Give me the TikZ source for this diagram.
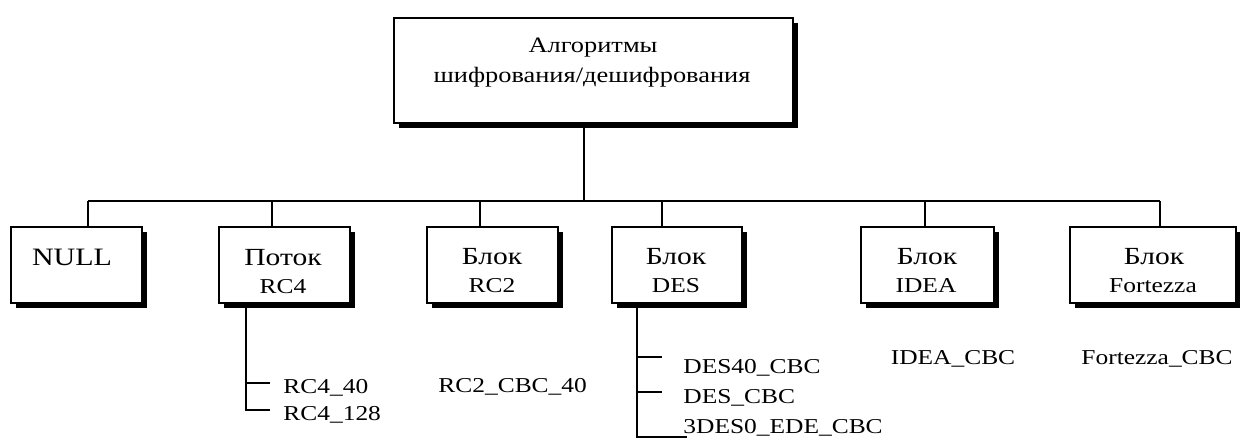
\documentclass[tikz,border=0pt]{standalone}
\usepackage{fontspec}
\setmainfont[FakeStretch=1.2]{Liberation Serif}
\usetikzlibrary{shadows}
\begin{document}
\begin{tikzpicture}[x=0.5pt,y=-0.5pt,
  box/.style={draw=black, line width=1pt, fill=white, inner sep=0pt,
    minimum height=38pt,
    drop shadow={shadow xshift=2.5pt, shadow yshift=-2.5pt, opacity=1, fill=black}},
  conn/.style={line width=1pt},
  txt/.style={anchor=base, inner sep=0pt, font=\fontsize{10.6}{13}\selectfont},
  cyr/.style={anchor=base, inner sep=0pt, font=\fontsize{12.3}{14}\selectfont},
  lbl/.style={anchor=base west, inner sep=0pt, font=\fontsize{10.6}{13}\selectfont},
  lblc/.style={anchor=base, inner sep=0pt, font=\fontsize{10.6}{13}\selectfont}]
\useasboundingbox (0,0) rectangle (1240,444);
% boxes
\node[box, minimum width=199.5pt, minimum height=52.5pt] (top) at (593.5,70.5) {};
\node[box, minimum width=65.5pt] (null) at (76.5,265) {};
\node[box, minimum width=65.5pt] (rc4) at (284.5,265) {};
\node[box, minimum width=65.5pt] (rc2) at (492.5,265) {};
\node[box, minimum width=65pt] (des) at (677,265) {};
\node[box, minimum width=66.5pt] (idea) at (927.5,265) {};
\node[box, minimum width=83pt] (fort) at (1153,265) {};
% box texts
\node[txt, font=\fontsize{11}{13}\selectfont] (tt1) at (593,53) {Алгоритмы};
\node[txt, font=\fontsize{11}{13}\selectfont] (tt2) at (592,83) {шифрования/дешифрования};
\node[txt, font=\fontsize{12.5}{14}\selectfont] (nt) at (72,265) {NULL};
\node[cyr] (rt1) at (283,265) {Поток};
\node[txt] (rt2) at (283,293) {RC4};
\node[cyr] (ct1) at (492,264) {Блок};
\node[txt] (ct2) at (492,292) {RC2};
\node[cyr] (dt1) at (676,264) {Блок};
\node[txt] (dt2) at (676,292) {DES};
\node[cyr] (it1) at (927,264) {Блок};
\node[txt] (it2) at (926,292) {IDEA};
\node[cyr] (ft1) at (1154,264) {Блок};
\node[txt] (ft2) at (1153,292) {Fortezza};
% bus
\coordinate (bc) at (584,201);
\coordinate (b1) at (88,201);
\coordinate (b2) at (272,201);
\coordinate (b3) at (480,201);
\coordinate (b4) at (662,201);
\coordinate (b5) at (925,201);
\coordinate (b6) at (1160,201);
\draw[conn] (bc |- top.south) -- (bc);
\draw[conn] (b1) -- (b6);
\draw[conn] (b1) -- (b1 |- null.north);
\draw[conn] (b2) -- (b2 |- rc4.north);
\draw[conn] (b3) -- (b3 |- rc2.north);
\draw[conn] (b4) -- (b4 |- des.north);
\draw[conn] (b5) -- (b5 |- idea.north);
\draw[conn] (b6) -- (b6 |- fort.north);
% RC4 sublist
\node[lbl] (r40) at (283,393) {RC4\_40};
\node[lbl] (r128) at (283,420) {RC4\_128};
\coordinate (rv1) at (246,383);
\coordinate (rv2) at (246,410);
\coordinate (re1) at (270,383);
\coordinate (re2) at (270,410);
\draw[conn] (rv1 |- rc4.south) -- (rv2) -- (re2);
\draw[conn] (rv1) -- (re1);
% RC2
\node[lbl] (rc2c) at (438,392) {RC2\_CBC\_40};
% DES sublist
\node[lbl] (d1) at (683,373) {DES40\_CBC};
\node[lbl] (d2) at (683,403) {DES\_CBC};
\node[lbl] (d3) at (683,433) {3DES0\_EDE\_CBC};
\coordinate (dv1) at (637,357);
\coordinate (dv2) at (637,392);
\coordinate (dv3) at (637,437);
\coordinate (de1) at (662,357);
\coordinate (de2) at (662,392);
\coordinate (de3) at (687,437);
\draw[conn] (dv1 |- des.south) -- (dv3) -- (de3);
\draw[conn] (dv1) -- (de1);
\draw[conn] (dv2) -- (de2);
% IDEA, Fortezza
\node[lblc] (ic) at (953,364) {IDEA\_CBC};
\node[lblc] (fc) at (1157,364) {Fortezza\_CBC};
\end{tikzpicture}
\end{document}
